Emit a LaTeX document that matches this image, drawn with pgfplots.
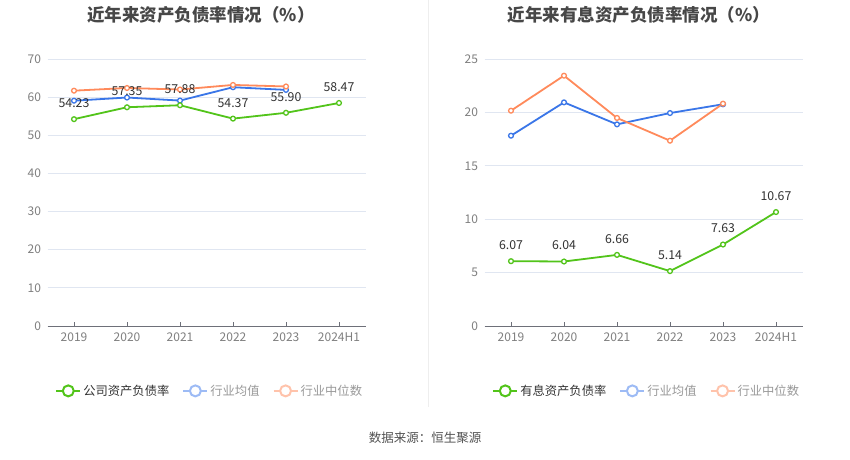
\documentclass[border=0pt]{standalone}
\usepackage{fontspec}
\setmainfont{Noto Sans CJK SC}
\usepackage{pgfplots}
\pgfplotsset{compat=1.18}
\definecolor{cgreen}{HTML}{52C41A}
\definecolor{cblue}{HTML}{3A76E8}
\definecolor{corange}{HTML}{FF8A5B}
\definecolor{lblue}{HTML}{9DBBF5}
\definecolor{lorange}{HTML}{FFC3AB}
\definecolor{gridc}{HTML}{E0E6F1}
\definecolor{tickc}{HTML}{6E7079}
\definecolor{tickl}{HTML}{7F7F7F}
\definecolor{labc}{HTML}{333333}
\definecolor{legg}{HTML}{999999}
\definecolor{sepc}{HTML}{EEEEEE}
\pgfplotsset{
 mystyle/.style={
  scale only axis, width=318pt, height=267pt,
  xmin=-0.5, xmax=5.5, ymin=0,
  xtick={0,...,5}, xticklabels={2019,2020,2021,2022,2023,2024H1},
  axis lines*=left,
  y axis line style={draw=none},
  x axis line style={draw=tickc, line width=0.9pt},
  ytick style={draw=none},
  xtick style={draw=tickc, line width=0.8pt},
  tick align=inside, major tick length=4pt,
  ymajorgrids, major grid style={gridc, line width=0.8pt},
  /pgf/number format/assume math mode=true,
  tick label style={font=\fontsize{12}{14}\selectfont, text=tickl},
  yticklabel style={xshift=-3pt},
  xticklabel style={yshift=-3pt},
  legend columns=3,
  legend style={draw=none, fill=none, font=\fontsize{12.3}{14}\selectfont,
    at={(0.51,-0.243)}, anchor=center,
    /tikz/every even column/.append style={column sep=11pt}},
  ser/.style={line width=1.8pt, mark=*, mark size=2.4pt,
    mark options={fill=white, line width=1.3pt}},
  lab/.style={nodes near coords, point meta=explicit symbolic,
    every node near coord/.append style={font=\fontsize{12.3}{14}\selectfont,
      text=labc, anchor=center, yshift=16pt}},
 },
 limg/.style={legend image code/.code={
   \draw[#1, line width=2pt] (0pt,0pt) -- (24pt,0pt);
   \draw[#1, line width=2pt, fill=white] (12pt,0pt) circle (5.5pt);}},
}
\begin{document}
\begin{tikzpicture}
\useasboundingbox[fill=white] (0pt,0pt) rectangle (850pt,459pt);
\draw[sepc, line width=0.8pt] (428pt,459pt) -- (428pt,52pt);
\node[font=\bfseries\fontsize{17.5}{20}\selectfont, text=labc!90!white] at (201pt,444pt) {近年来资产负债率情况（\%）};
\node[font=\bfseries\fontsize{17.5}{20}\selectfont, text=labc!90!white] at (639pt,444pt) {近年来有息资产负债率情况（\%）};
\node[font=\fontsize{12.5}{14}\selectfont, text=labc!85!white] at (425pt,21pt) {数据来源：恒生聚源};

\begin{axis}[mystyle, at={(47.5pt,133pt)}, anchor=south west, ymax=70, ytick={0,10,...,70}]
\addplot[ser, color=cblue, forget plot] coordinates {(0,59.07) (1,59.9) (2,59.1) (3,62.6) (4,61.9)};
\addplot[ser, color=corange, forget plot] coordinates {(0,61.7) (1,62.4) (2,62.0) (3,63.2) (4,62.8)};
\addplot[ser, color=cgreen, lab, forget plot] coordinates {(0,54.23) [54.23] (1,57.35) [57.35] (2,57.88) [57.88] (3,54.37) [54.37] (4,55.90) [55.90] (5,58.47) [58.47]};
\addlegendimage{limg=cgreen}
\addlegendentry[text=labc]{公司资产负债率}
\addlegendimage{limg=lblue}
\addlegendentry[text=legg]{行业均值}
\addlegendimage{limg=lorange}
\addlegendentry[text=legg]{行业中位数}
\end{axis}

\begin{axis}[mystyle, at={(484.5pt,133pt)}, anchor=south west, ymax=25, ytick={0,5,...,25}]
\addplot[ser, color=cblue, forget plot] coordinates {(0,17.82) (1,20.94) (2,18.88) (3,19.94) (4,20.76)};
\addplot[ser, color=corange, forget plot] coordinates {(0,20.16) (1,23.44) (2,19.48) (3,17.35) (4,20.82)};
\addplot[ser, color=cgreen, lab, forget plot] coordinates {(0,6.07) [6.07] (1,6.04) [6.04] (2,6.66) [6.66] (3,5.14) [5.14] (4,7.63) [7.63] (5,10.67) [10.67]};
\addlegendimage{limg=cgreen}
\addlegendentry[text=labc]{有息资产负债率}
\addlegendimage{limg=lblue}
\addlegendentry[text=legg]{行业均值}
\addlegendimage{limg=lorange}
\addlegendentry[text=legg]{行业中位数}
\end{axis}
\end{tikzpicture}
\end{document}
